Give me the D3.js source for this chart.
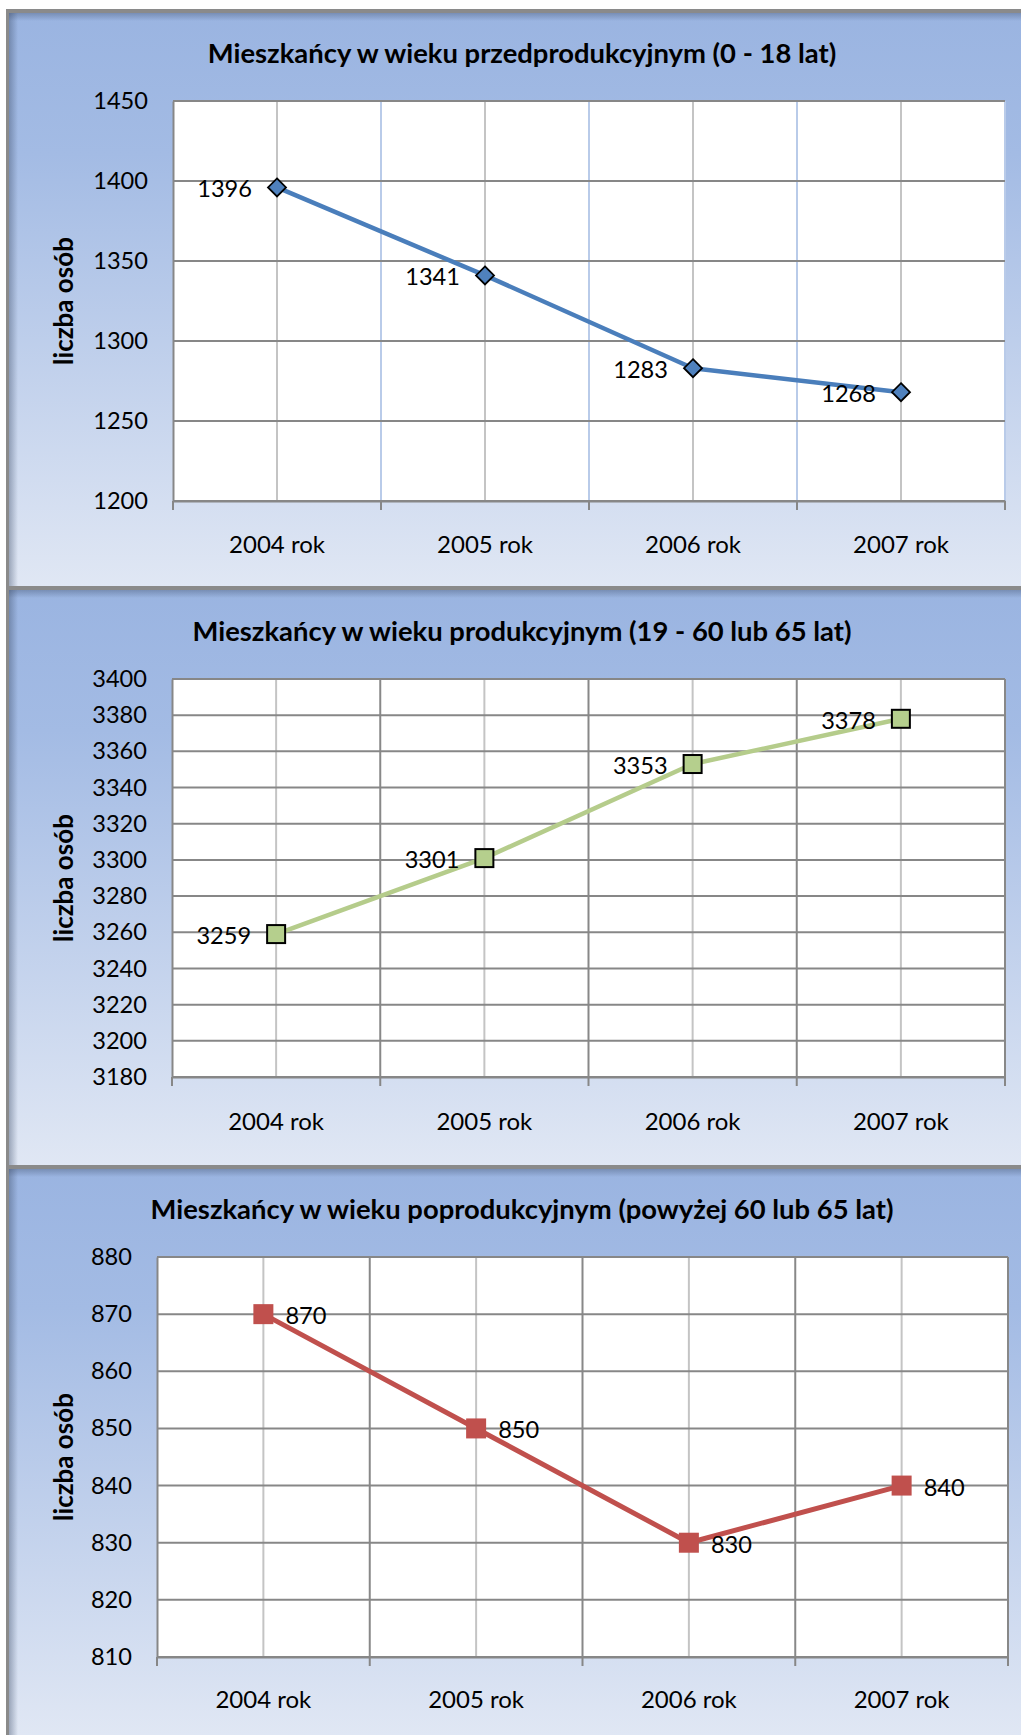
<!DOCTYPE html>
<html><head><meta charset="utf-8">
<script src="https://cdn.jsdelivr.net/npm/d3@7"></script>
<style>html,body{margin:0;padding:0;background:#fff;}svg{display:block;}</style>
</head><body>
<svg id="c" width="1021" height="1735"></svg>
<script>
// ---- data ----
const categories = ["2004 rok", "2005 rok", "2006 rok", "2007 rok"];
const titles = [
  "Mieszkańcy w wieku przedprodukcyjnym (0 - 18 lat)",
  "Mieszkańcy w wieku produkcyjnym (19 - 60 lub 65 lat)",
  "Mieszkańcy w wieku poprodukcyjnym (powyżej 60 lub 65 lat)"
];
const yAxisTitle = "liczba osób";
const valuesPre = [1396, 1341, 1283, 1268];
const valuesProd = [3259, 3301, 3353, 3378];
const valuesPost = [870, 850, 830, 840];
const ticksPre = [1200, 1250, 1300, 1350, 1400, 1450];
const ticksProd = [3180, 3200, 3220, 3240, 3260, 3280, 3300, 3320, 3340, 3360, 3380, 3400];
const ticksPost = [810, 820, 830, 840, 850, 860, 870, 880];

// ---- layout / style ----
const FONT = "Lato, 'Open Sans', sans-serif";
const LBL = 23.6;
const panels = [
  {y0: 9, y1: 586, plot: {l: 173, r: 1005, t: 101, b: 501}, titleY: 52, xLabY: 543,
   values: valuesPre, ticks: ticksPre, title: titles[0], marker: "diamond",
   line: "#4a7ebb", fill: "#4f81bd", labelSide: "left", bandGrid: "#b9cbe9"},
  {y0: 586, y1: 1165, plot: {l: 172, r: 1005, t: 679, b: 1077}, titleY: 630, xLabY: 1120,
   values: valuesProd, ticks: ticksProd, title: titles[1], marker: "square",
   line: "#b5cc8b", fill: "#b5cf8d", labelSide: "left", bandGrid: "#888"},
  {y0: 1165, y1: 1735, plot: {l: 157, r: 1008, t: 1257, b: 1657}, titleY: 1208, xLabY: 1698,
   values: valuesPost, ticks: ticksPost, title: titles[2], marker: "squareRed",
   line: "#c0504d", fill: "#c0504d", labelSide: "right", bandGrid: "#888"}
];

const svg = d3.select("#c");
const defs = svg.append("defs");
const bg = defs.append("linearGradient").attr("id", "bg").attr("x1", 0).attr("y1", 0).attr("x2", 0).attr("y2", 1);
bg.append("stop").attr("offset", 0).attr("stop-color", "#9ab4e1");
bg.append("stop").attr("offset", 0.25).attr("stop-color", "#a3bbe4");
bg.append("stop").attr("offset", 1).attr("stop-color", "#e0e7f4");
const sh = defs.append("linearGradient").attr("id", "shT").attr("x1", 0).attr("y1", 0).attr("x2", 0).attr("y2", 1);
sh.append("stop").attr("offset", 0).attr("stop-color", "#3a4a66").attr("stop-opacity", 0.45);
sh.append("stop").attr("offset", 1).attr("stop-color", "#3a4a66").attr("stop-opacity", 0);
const shL = defs.append("linearGradient").attr("id", "shL").attr("x1", 0).attr("y1", 0).attr("x2", 1).attr("y2", 0);
shL.append("stop").attr("offset", 0).attr("stop-color", "#3a4a66").attr("stop-opacity", 0.45);
shL.append("stop").attr("offset", 1).attr("stop-color", "#3a4a66").attr("stop-opacity", 0);

panels.forEach(p => {
  const g = svg.append("g");
  const h = p.y1 - p.y0;
  g.append("rect").attr("x", 7).attr("y", p.y0).attr("width", 1100).attr("height", h).attr("fill", "url(#bg)");
  g.append("rect").attr("x", 7).attr("y", p.y0 + 2).attr("width", 1100).attr("height", 10).attr("fill", "url(#shT)");
  g.append("rect").attr("x", 8).attr("y", p.y0).attr("width", 10).attr("height", h).attr("fill", "url(#shL)");
  g.append("line").attr("x1", 7.5).attr("x2", 1030).attr("y1", p.y0 + 2).attr("y2", p.y0 + 2)
    .attr("stroke", "#8a8a8a").attr("stroke-width", 4);
  g.append("line").attr("x1", 7.5).attr("x2", 7.5).attr("y1", p.y0).attr("y2", p.y1)
    .attr("stroke", "#8a8a8a").attr("stroke-width", 3);

  const P = p.plot;
  const x = d3.scaleBand().domain(categories).range([P.l, P.r]).padding(0);
  const y = d3.scaleLinear().domain([p.ticks[0], p.ticks[p.ticks.length - 1]]).range([P.b, P.t]);

  g.append("rect").attr("x", P.l).attr("y", P.t).attr("width", P.r - P.l).attr("height", P.b - P.t).attr("fill", "#fff");

  g.selectAll(".vc").data(categories).enter().append("line")
    .attr("x1", d => x(d) + x.bandwidth() / 2).attr("x2", d => x(d) + x.bandwidth() / 2)
    .attr("y1", P.t).attr("y2", P.b).attr("stroke", "#c4c4c4").attr("stroke-width", 2);
  const bounds = categories.slice(1).map(d => x(d)).concat([P.r]);
  g.selectAll(".vb").data(bounds).enter().append("line")
    .attr("x1", d => d).attr("x2", d => d).attr("y1", P.t).attr("y2", P.b)
    .attr("stroke", p.bandGrid).attr("stroke-width", 2);
  g.selectAll(".hg").data(p.ticks).enter().append("line")
    .attr("x1", P.l).attr("x2", P.r).attr("y1", d => y(d)).attr("y2", d => y(d))
    .attr("stroke", "#878787").attr("stroke-width", 2);

  const yAxis = d3.axisLeft(y).tickValues(p.ticks).tickFormat(d3.format("d")).tickSize(0).tickPadding(25);
  const ya = g.append("g").attr("transform", `translate(${P.l},0)`).call(yAxis);
  ya.select(".domain").attr("stroke", "#878787").attr("stroke-width", 2);
  ya.selectAll("text").attr("font-family", FONT).attr("font-size", LBL).attr("fill", "#000");

  const xAxis = d3.axisBottom(x).tickSize(0).tickPadding(0).tickFormat(() => "");
  const xa = g.append("g").attr("transform", `translate(0,${P.b})`).call(xAxis);
  xa.select(".domain").attr("stroke", "#878787").attr("stroke-width", 2);
  const tickPos = [P.l].concat(bounds);
  g.selectAll(".xt").data(tickPos).enter().append("line")
    .attr("x1", d => d).attr("x2", d => d).attr("y1", P.b).attr("y2", P.b + 9)
    .attr("stroke", "#878787").attr("stroke-width", 2);
  g.selectAll(".xl").data(categories).enter().append("text")
    .attr("x", d => x(d) + x.bandwidth() / 2).attr("y", p.xLabY)
    .attr("text-anchor", "middle").attr("dominant-baseline", "central")
    .attr("font-family", FONT).attr("font-size", 24).attr("fill", "#000").text(d => d);

  g.append("text").attr("x", 522).attr("y", p.titleY).attr("text-anchor", "middle")
    .attr("dominant-baseline", "central").attr("font-family", FONT).attr("font-weight", "bold")
    .attr("font-size", 27.4).attr("fill", "#000").text(p.title);
  g.append("text").attr("transform", `translate(63,${(P.t + P.b) / 2}) rotate(-90)`)
    .attr("text-anchor", "middle").attr("dominant-baseline", "central")
    .attr("font-family", FONT).attr("font-weight", "bold").attr("font-size", 26).attr("fill", "#000")
    .text(yAxisTitle);

  const pts = categories.map((c, i) => [x(c) + x.bandwidth() / 2, y(p.values[i])]);
  g.append("path").attr("d", d3.line()(pts)).attr("fill", "none").attr("stroke", p.line)
    .attr("stroke-width", p.marker === "squareRed" ? 5 : 4.5).attr("stroke-linejoin", "round");

  pts.forEach(([px, py]) => {
    if (p.marker === "diamond") {
      g.append("path").attr("d", `M${px},${py - 9}L${px + 9},${py}L${px},${py + 9}L${px - 9},${py}Z`)
        .attr("fill", p.fill).attr("stroke", "#000").attr("stroke-width", 1.8);
    } else if (p.marker === "square") {
      g.append("rect").attr("x", px - 9).attr("y", py - 9).attr("width", 18).attr("height", 18)
        .attr("fill", p.fill).attr("stroke", "#000").attr("stroke-width", 2);
    } else {
      g.append("rect").attr("x", px - 10).attr("y", py - 10).attr("width", 20).attr("height", 20)
        .attr("fill", p.fill);
    }
  });

  pts.forEach(([px, py], i) => {
    const left = p.labelSide === "left";
    g.append("text").attr("x", left ? px - 25 : px + 22).attr("y", py + 1)
      .attr("text-anchor", left ? "end" : "start").attr("dominant-baseline", "central")
      .attr("font-family", FONT).attr("font-size", LBL).attr("fill", "#000").text(p.values[i]);
  });
});
</script>
</body></html>
